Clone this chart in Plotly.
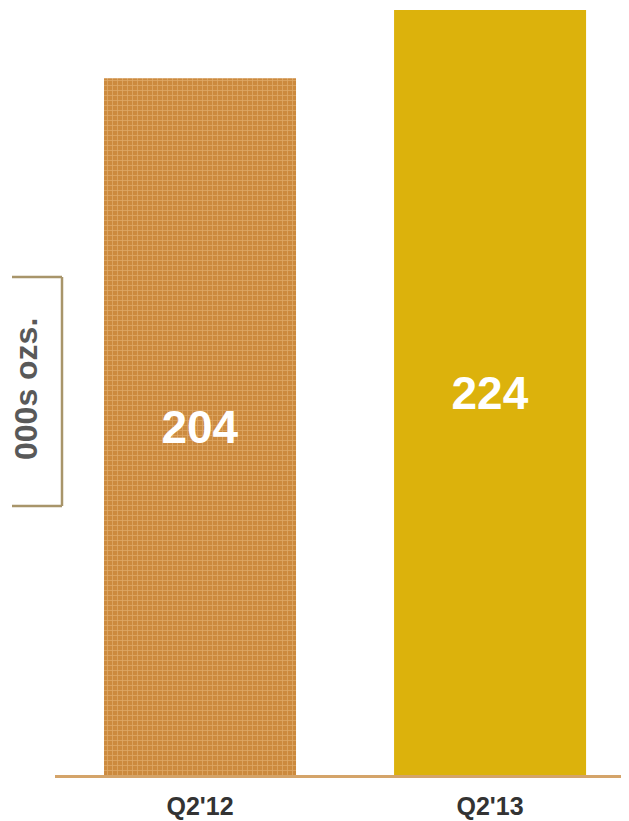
import plotly.graph_objects as go

# Data
quarters = ["Q2'12", "Q2'13"]
ounces = [204, 224]
bar_colors = ['#CC8A3E', '#DCB20C']

# page body has an 8px margin, so the figure is sized/placed to compensate
W, H = 621, 813
L, B, T = 47, 46, 0
pw, ph = W - L, H - B - T

fig = go.Figure()

# one trace per bar so the textured fill only applies to the first bar
for i, q in enumerate(quarters):
    marker = dict(color=bar_colors[i], line=dict(width=0))
    if i == 0:
        marker['pattern'] = dict(shape='+', fgcolor='#EEC48C', bgcolor=bar_colors[i],
                                 size=5, solidity=0.3)
    fig.add_trace(go.Bar(
        x=[q],
        y=[ounces[i]],
        text=[str(ounces[i])],
        textposition='inside',
        insidetextanchor='middle',
        textangle=0,
        textfont=dict(family='Liberation Sans, Arial', size=46, color='white'),
        texttemplate='<b>%{text}</b>',
        width=0.662,
        marker=marker,
        hoverinfo='skip',
        showlegend=False,
    ))

fig.update_layout(
    width=W, height=H,
    barmode='overlay',
    margin=dict(l=L, r=0, t=T, b=B, autoexpand=False),
    plot_bgcolor='white',
    paper_bgcolor='white',
    xaxis=dict(
        range=[-0.5, 1.479],
        showgrid=False,
        zeroline=False,
        showline=True,
        linecolor='#D4A46A',
        linewidth=3,
        ticks='',
        tickfont=dict(family='Liberation Sans, Arial', size=25, color='#333333'),
        ticklabelstandoff=7,
        automargin=False,
    ),
    yaxis=dict(
        range=[0, 224.6],
        visible=False,
    ),
    font=dict(family='Liberation Sans, Arial'),
)

fig.update_xaxes(ticktext=['<b>%s</b>' % q for q in quarters], tickvals=quarters)

# y axis label with bracket
fig.add_annotation(
    text='<b>000s ozs.</b>',
    xref='paper', yref='paper',
    x=(26 - 8 - L) / pw, y=(775 - 389) / ph,
    xanchor='center', yanchor='middle',
    textangle=-90,
    showarrow=False,
    font=dict(size=32, color='#595959'),
)

bx0, bx1 = (12 - 8 - L) / pw, (62 - 8 - L) / pw
by0, by1 = (775 - 506) / ph, (775 - 277) / ph
for (x0, y0, x1, y1) in [(bx0, by1, bx1, by1), (bx1, by1, bx1, by0), (bx0, by0, bx1, by0)]:
    fig.add_shape(type='line', xref='paper', yref='paper',
                  x0=x0, y0=y0, x1=x1, y1=y1,
                  line=dict(color='#A8956A', width=2.5))

fig.write_html("out.html")
